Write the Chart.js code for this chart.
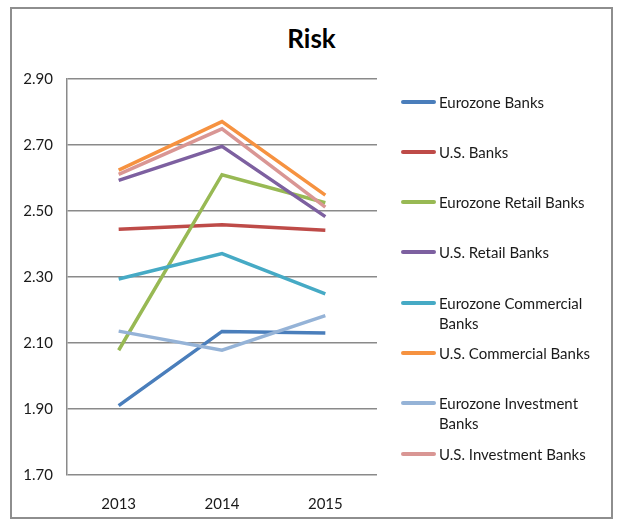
<!DOCTYPE html>
<html>
<head>
<meta charset="utf-8">
<script src="https://cdn.jsdelivr.net/npm/chart.js@4.4.1/dist/chart.umd.min.js"></script>
<style>
    body { margin: 0; background: #fff; font-family: Lato, sans-serif; }
    #wrap { position: relative; width: 623px; height: 529px; }
    #frame { position: absolute; left: 10px; top: 7px; width: 599px; height: 508px; border: 2px solid #8e8e8e; }
    #title { position: absolute; left: 0; top: 22px; width: 623px; text-align: center; font-size: 26px; font-weight: bold; color: #000; }
    #chart { position: absolute; left: 0; top: 0; }
    .item { position: absolute; left: 401px; display: flex; align-items: flex-start; }
    .swatch { width: 35px; height: 4px; margin-top: 8px; border-radius: 2px; }
    .label { width: 168px; font-size: 15px; line-height: 20px; color: #1a1a1a; margin-left: 3px; }
</style>
</head>
<body>
<div id="wrap">
    <div id="frame"></div>
    <div id="title">Risk</div>
    <canvas id="chart" width="623" height="529"></canvas>
    <div id="legend"></div>
</div>
<script>
const years = ['2013', '2014', '2015']

const seriesNames = [
    'Eurozone Banks',
    'U.S. Banks',
    'Eurozone Retail Banks',
    'U.S. Retail Banks',
    'Eurozone Commercial Banks',
    'U.S. Commercial Banks',
    'Eurozone Investment Banks',
    'U.S. Investment Banks'
]

const eurozoneBanks = [1.91, 2.135, 2.13]
const usBanks = [2.445, 2.458, 2.442]
const eurozoneRetail = [2.078, 2.61, 2.525]
const usRetail = [2.593, 2.696, 2.483]
const eurozoneCommercial = [2.294, 2.371, 2.249]
const usCommercial = [2.624, 2.771, 2.548]
const eurozoneInvestment = [2.136, 2.078, 2.183]
const usInvestment = [2.611, 2.749, 2.512]

const yMin = 1.7
const yMax = 2.9
const yStep = 0.2

const seriesValues = [
    eurozoneBanks, usBanks, eurozoneRetail, usRetail,
    eurozoneCommercial, usCommercial, eurozoneInvestment, usInvestment
]

const seriesColors = [
    '#4a7ebb', '#be4b48', '#98b954', '#7d60a0',
    '#46aac5', '#f69240', '#95b3d7', '#d99694'
]

Chart.defaults.font.family = 'Lato, sans-serif'

const datasets = seriesNames.map((name, i) => ({
    label: name,
    data: seriesValues[i],
    borderColor: seriesColors[i],
    backgroundColor: seriesColors[i],
    borderWidth: 3.5,
    pointRadius: 0,
    tension: 0,
    // later series sit on top, as in the source
    order: seriesNames.length - i
}))

const chart = new Chart(document.getElementById('chart'), {
    type: 'line',
    data: { labels: years, datasets },
    options: {
        responsive: false,
        animation: false,
        layout: { padding: { left: 0, top: 79, right: 246, bottom: 0 } },
        plugins: {
            legend: { display: false },
            tooltip: { enabled: false }
        },
        scales: {
            x: {
                offset: true,
                grid: { display: false },
                border: { display: false },
                ticks: { color: '#1a1a1a', font: { size: 15 }, padding: 12 },
                afterFit: (scale) => { scale.height = 54 }
            },
            y: {
                min: yMin,
                max: yMax,
                grid: { color: '#8a8a8a', lineWidth: 1.5, drawTicks: false },
                border: { display: true, color: '#8a8a8a', width: 1.5 },
                ticks: {
                    stepSize: yStep,
                    color: '#1a1a1a',
                    font: { size: 15 },
                    padding: 14,
                    callback: (v) => Number(v).toFixed(2)
                },
                afterFit: (scale) => { scale.width = 67 }
            }
        }
    }
})

// legend built from the chart's own datasets
const legend = document.getElementById('legend')
chart.data.datasets.forEach((ds, i) => {
    const item = document.createElement('div')
    item.className = 'item'
    item.style.top = (91.5 + i * 50.3) + 'px'
    const sw = document.createElement('div')
    sw.className = 'swatch'
    sw.style.background = ds.borderColor
    const tx = document.createElement('div')
    tx.className = 'label'
    tx.textContent = ds.label
    item.appendChild(sw)
    item.appendChild(tx)
    legend.appendChild(item)
})
</script>
</body>
</html>
